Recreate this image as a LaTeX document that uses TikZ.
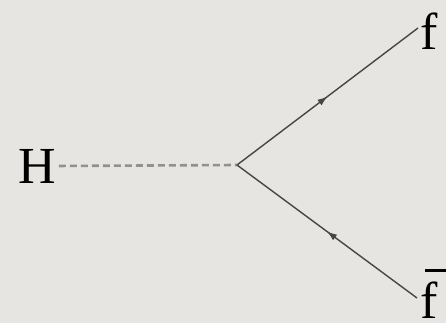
\documentclass[tikz,border=0pt]{standalone}
\usepackage{fontspec}
\setmainfont{Liberation Serif}
\usetikzlibrary{decorations.markings,arrows.meta}
\definecolor{bg}{RGB}{230,229,226}
\definecolor{fline}{RGB}{70,70,70}
\definecolor{sline}{RGB}{145,145,145}
\tikzset{
  lbl/.style={font=\fontsize{52}{60}\selectfont, inner sep=0pt, text=black},
  fermion/.style={draw=fline, line width=1.4pt, postaction={decorate},
    decoration={markings, mark=at position 0.5 with {\arrow{Latex[length=10pt,width=7pt]}}}},
  scalar/.style={draw=sline, line width=2.6pt, dash pattern=on 7pt off 4pt}
}
\begin{document}
\begin{tikzpicture}[x=1pt,y=-1pt]
\fill[bg] (0,0) rectangle (446,323);
\useasboundingbox (0,0) rectangle (446,323);
\node[lbl, anchor=base] (H) at (37,183) {H};
\coordinate (v) at (237,165);
\coordinate (fe) at (418,28);
\coordinate (fbe) at (417,298);
\node[lbl, anchor=base west] (f) at (420,50) {f};
\node[lbl, anchor=base west] (fb) at (420,318) {\rlap{\kern5pt\raisebox{46pt}{\rule{22pt}{3pt}}}f};
\draw[scalar] ([xshift=3pt]H.east) -- (v);
\draw[fermion] (v) -- (fe);
\draw[fermion] (fbe) -- (v);
\end{tikzpicture}
\end{document}
